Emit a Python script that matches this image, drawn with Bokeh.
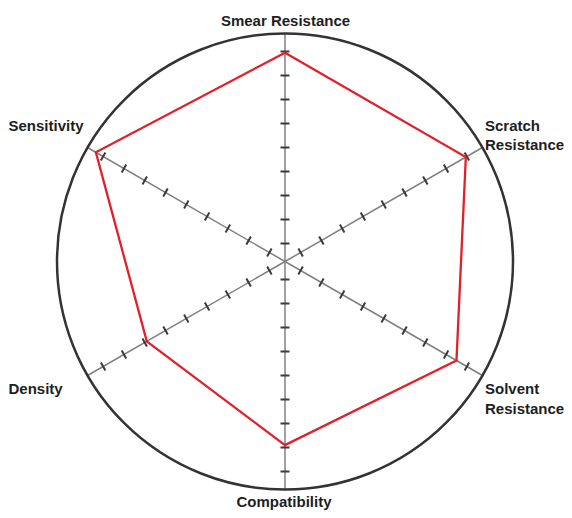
import numpy as np
from bokeh.plotting import figure
from bokeh.models import Range1d
from bokeh.core.properties import value
from bokeh.embed import file_html
from bokeh.resources import INLINE

# ---- data ----
categories = ["Smear Resistance", "Scratch Resistance", "Solvent Resistance",
              "Compatibility", "Density", "Sensitivity"]
angles_deg = [90, 30, -30, -90, -150, 150]
scores = [8.95, 8.95, 8.5, 7.9, 6.9, 9.35]
tick_values = [1, 2, 3, 4, 5, 6, 7, 8, 9]
scale_min = 0.25
scale_max = 9.75

# ---- layout ----
W, H = 564, 510
PX = 24.0             # pixels per unit
CX, CY = 284.5, 261   # centre in figure pixels (from left, from top)

p = figure(width=W, height=H, output_backend="svg", toolbar_location=None,
           x_range=Range1d(-CX / PX, (W - CX) / PX),
           y_range=Range1d(-(H - CY) / PX, CY / PX),
           min_border=0)
p.axis.visible = False
p.grid.visible = False
p.outline_line_color = None
p.background_fill_color = "white"

ang = np.radians(angles_deg)
R = scale_max - scale_min

# axis spokes
p.segment(x0=np.zeros(len(ang)), y0=np.zeros(len(ang)),
          x1=R * np.cos(ang), y1=R * np.sin(ang),
          line_color="#808080", line_width=1.5)

# tick marks
half = 4.5 / PX
tx0, ty0, tx1, ty1 = [], [], [], []
for a in ang:
    for t in tick_values:
        r = t - scale_min
        cx, cy = r * np.cos(a), r * np.sin(a)
        px_, py_ = -np.sin(a), np.cos(a)
        tx0.append(cx - half * px_); ty0.append(cy - half * py_)
        tx1.append(cx + half * px_); ty1.append(cy + half * py_)
p.segment(x0=tx0, y0=ty0, x1=tx1, y1=ty1, line_color="#3a3a3a", line_width=2)

# outer circle
p.circle(x=[0], y=[0], radius=R, fill_color=None, line_color="#333333",
         line_width=2.5)

# data polygon
rs = np.array(scores) - scale_min
xs = list(rs * np.cos(ang)) + [rs[0] * np.cos(ang[0])]
ys = list(rs * np.sin(ang)) + [rs[0] * np.sin(ang[0])]
p.line(xs, ys, line_color="#e0202a", line_width=2.3, line_join="miter")

# labels
font = value("Liberation Sans")
common = dict(text_font=font, text_font_style="bold", text_font_size="15px",
              text_color="#1e1e1e", text_baseline="middle")

# centred labels (top & bottom)
p.text(x=[0.5 / PX, -1.0 / PX], y=[241 / PX, -240 / PX],
       text=[categories[0], categories[3]], text_align="center", **common)

# left-aligned labels
sr = categories[1].split(" ")
so = categories[2].split(" ")
rx = 200.0 / PX
lxl = -276.5 / PX
lx = [rx, rx, rx, rx, lxl, lxl]
ly = [136 / PX, 117 / PX, -127 / PX, -147 / PX, -127 / PX, 136 / PX]
lt = [sr[0], sr[1], so[0], so[1], categories[4], categories[5]]
p.text(x=lx, y=ly, text=lt, text_align="left", **common)

open("out.html", "w").write(file_html(p, INLINE))
